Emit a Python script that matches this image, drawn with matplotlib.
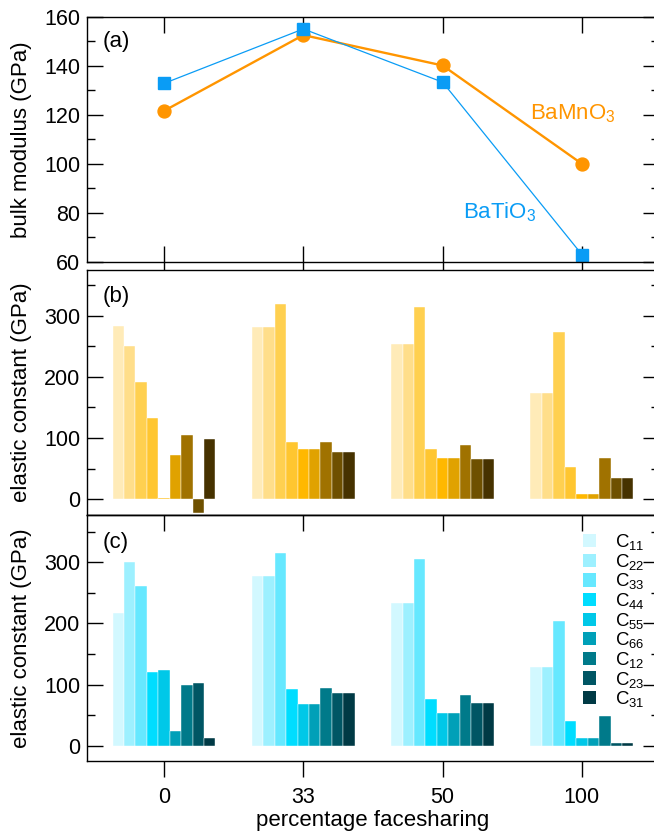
import numpy as np
import matplotlib
matplotlib.use('Agg')
import matplotlib.pyplot as plt
from matplotlib.patches import Patch
from matplotlib.ticker import MultipleLocator

plt.rcParams['font.family'] = ['Liberation Sans', 'DejaVu Sans']
plt.rcParams['mathtext.default'] = 'regular'
plt.rcParams['axes.linewidth'] = 1.0

# x categories
facesharing = ['0', '33', '50', '100']

# (a) bulk modulus (GPa)
bulk_bamno3 = [121.6, 152.5, 140.1, 100.0]
bulk_batio3 = [132.8, 155.0, 133.3, 63.0]

# elastic constants, one row per facesharing value
cij_names = ['C$_{11}$', 'C$_{22}$', 'C$_{33}$', 'C$_{44}$', 'C$_{55}$',
             'C$_{66}$', 'C$_{12}$', 'C$_{23}$', 'C$_{31}$']
cij_bamno3 = [
    [284, 250, 192, 133, 2, 72, 105, -22, 98],
    [281, 281, 319, 94, 82, 82, 93, 77, 77],
    [254, 254, 315, 82, 68, 68, 88, 65, 65],
    [174, 174, 274, 53, 9, 9, 67, 35, 35],
]
cij_batio3 = [
    [217, 301, 261, 120, 123, 24, 100, 102, 12],
    [277, 277, 315, 93, 68, 68, 95, 86, 86],
    [233, 233, 305, 77, 53, 53, 83, 69, 69],
    [128, 128, 204, 41, 12, 12, 48, 5, 5],
]

orange = '#FF9500'
blue = '#0A9CF5'
yellows = ['#FFEBB8', '#FFDE8A', '#FFD050', '#FFC630', '#FFB800',
           '#E0A200', '#A07200', '#6E5000', '#463200']
cyans = ['#D2F8FF', '#9DF0FF', '#66E8FF', '#00DDFF', '#00C8E8',
         '#00A0B8', '#007A8A', '#005664', '#003A45']

FS = 15.5
MAJ = 11.5
MIN = 6

fig = plt.figure(figsize=(6.54, 8.34), dpi=100)
left, width = 0.133, 0.8746
ax_a = fig.add_axes([left, 0.6859, width, 0.2941])
ax_b = fig.add_axes([left, 0.3825, width, 0.2938])
ax_c = fig.add_axes([left, 0.0875, width, 0.2950])

x = np.arange(len(facesharing))
xlim = (-0.553, 3.553)


def style_y(ax, major, minor):
    ax.yaxis.set_major_locator(MultipleLocator(major))
    ax.yaxis.set_minor_locator(MultipleLocator(minor))
    ax.tick_params(axis='y', which='both', direction='in', left=True,
                   right=True, width=1, labelsize=FS, pad=5)
    ax.tick_params(axis='y', which='major', length=MAJ)
    ax.tick_params(axis='y', which='minor', length=MIN)


# panel (a)
ax_a.plot(x, bulk_bamno3, '-o', color=orange, lw=1.7, ms=9.3, zorder=2)
ax_a.plot(x, bulk_batio3, '-s', color=blue, lw=0.9, ms=8.5, zorder=2.2)
ax_a.set_xlim(*xlim)
ax_a.set_ylim(60, 160)
ax_a.set_xticks(x)
ax_a.tick_params(axis='x', direction='in', top=True, bottom=True,
                 length=MAJ, width=1, labelbottom=False)
style_y(ax_a, 20, 10)
ax_a.set_ylabel('bulk modulus (GPa)', fontsize=16)
ax_a.yaxis.set_label_coords(-0.096, 0.5)
ax_a.text(0.028, 0.897, '(a)', transform=ax_a.transAxes, fontsize=16,
          va='center', ha='left')
ax_a.text(2.627, 118.3, 'BaMnO$_3$', color=orange, fontsize=16,
          va='baseline', ha='left')
ax_a.text(2.146, 77.9, 'BaTiO$_3$', color=blue, fontsize=16,
          va='baseline', ha='left')

# bar panels
bw = 0.0821


def draw_bars(ax, data, colors):
    data = np.array(data)
    for i in range(data.shape[1]):
        ax.bar(x + (i - 4) * bw, data[:, i], bw, color=colors[i],
               edgecolor='white', linewidth=0.3, label=cij_names[i])


draw_bars(ax_b, cij_bamno3, yellows)
ax_b.set_xlim(*xlim)
ax_b.set_ylim(-26, 375)
ax_b.set_xticks(x)
ax_b.tick_params(axis='x', direction='out', top=True, bottom=False,
                 length=6, width=1, labelbottom=False)
style_y(ax_b, 100, 50)
ax_b.set_ylabel('elastic constant (GPa)', fontsize=16)
ax_b.yaxis.set_label_coords(-0.096, 0.5)
ax_b.text(0.028, 0.89, '(b)', transform=ax_b.transAxes, fontsize=16,
          va='center', ha='left')

draw_bars(ax_c, cij_batio3, cyans)
ax_c.set_xlim(*xlim)
ax_c.set_ylim(-25, 377)
ax_c.set_xticks(x)
ax_c.set_xticklabels(facesharing)
ax_c.tick_params(axis='x', direction='out', top=False, bottom=True,
                 length=MAJ, width=1, labelsize=FS, pad=7)
top = ax_c.secondary_xaxis('top')
top.set_xticks(x)
top.tick_params(direction='in', length=MAJ, width=1, labeltop=False)
style_y(ax_c, 100, 50)
ax_c.set_ylabel('elastic constant (GPa)', fontsize=16)
ax_c.yaxis.set_label_coords(-0.096, 0.5)
ax_c.set_xlabel('percentage facesharing', fontsize=16, labelpad=2)
ax_c.text(0.028, 0.89, '(c)', transform=ax_c.transAxes, fontsize=16,
          va='center', ha='left')

handles = [Patch(facecolor=c, edgecolor='none') for c in cyans]
ax_c.legend(handles, cij_names, loc='upper left', bbox_to_anchor=(0.867, 0.93),
            frameon=False, fontsize=13.4, handlelength=0.72, handleheight=0.72,
            handletextpad=1.0, labelspacing=-0.02, borderpad=0, borderaxespad=0)

fig.savefig('out.png', dpi=100)
